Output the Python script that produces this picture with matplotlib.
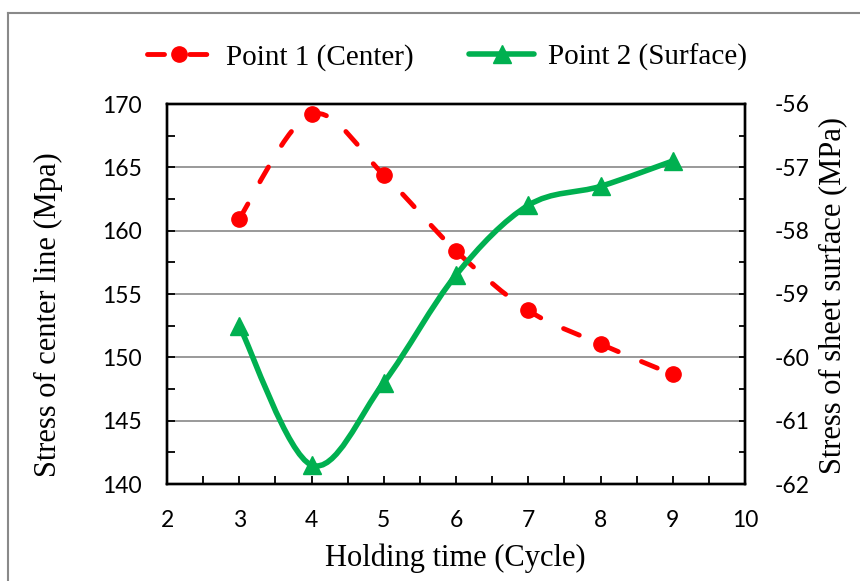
import matplotlib
matplotlib.use('Agg')
import matplotlib.pyplot as plt
import numpy as np
from matplotlib.path import Path
from matplotlib.patches import PathPatch
from matplotlib.lines import Line2D
from matplotlib.ticker import MultipleLocator
from matplotlib.font_manager import FontProperties

# ---------------- data ----------------
cycles = [3, 4, 5, 6, 7, 8, 9]
center_stress = [160.95, 169.2, 164.4, 158.4, 153.7, 151.05, 148.65]
surface_stress = [-59.5, -61.7, -60.4, -58.7, -57.6, -57.3, -56.9]
series_names = ['Point 1 (Center)', 'Point 2 (Surface)']
x_ticks = [2, 3, 4, 5, 6, 7, 8, 9, 10]
left_ticks = [140, 145, 150, 155, 160, 165, 170]
right_ticks = [-62, -61, -60, -59, -58, -57, -56]
x_title = 'Holding time (Cycle)'
left_title = 'Stress of center line (Mpa)'
right_title = 'Stress of sheet surface (MPa)'

RED = '#FF0000'
GREEN = '#00B050'
GRID = '#878787'

tick_font = FontProperties(family='Lato', size=16.5)
title_font = FontProperties(family='Liberation Serif', size=22)
legend_font = FontProperties(family='Liberation Serif', size=21)


def smooth_path(x, y):
    """Excel-like smoothed line as cubic Bezier segments through the points."""
    p = np.column_stack([x, y]).astype(float)
    n = len(p)
    verts = [p[0]]
    codes = [Path.MOVETO]
    for i in range(n - 1):
        prev = p[i - 1] if i > 0 else p[i]
        nxt = p[i + 2] if i + 2 < n else p[i + 1]
        c1 = p[i] + (p[i + 1] - prev) / 6.0
        c2 = p[i + 1] - (nxt - p[i]) / 6.0
        verts += [c1, c2, p[i + 1]]
        codes += [Path.CURVE4] * 3
    return Path(verts, codes)


fig = plt.figure(figsize=(8.6, 5.81), dpi=100)
W, H = 860, 581
ax = fig.add_axes([167 / W, 1 - 484 / H, (745 - 167) / W, (484 - 104) / H])
ax2 = ax.twinx()

# red series (left axis)
red_lw = 3.5
red_dash = (0, (3.5, 5.2))
ax.add_patch(PathPatch(smooth_path(cycles, center_stress), fill=False,
                       edgecolor=RED, lw=red_lw, linestyle=red_dash,
                       capstyle='round', joinstyle='round', zorder=3))
ax.plot(cycles, center_stress, ls='none', marker='o', ms=11,
        color=RED, zorder=4)

# green series (right axis)
green_lw = 4.0
ax2.add_patch(PathPatch(smooth_path(cycles, surface_stress), fill=False,
                        edgecolor=GREEN, lw=green_lw, capstyle='round',
                        joinstyle='round', zorder=3))
ax2.plot(cycles, surface_stress, ls='none', marker='^', ms=13,
         color=GREEN, zorder=4)

# axes limits and ticks
ax.set_xlim(x_ticks[0], x_ticks[-1])
ax.set_ylim(left_ticks[0], left_ticks[-1])
ax2.set_ylim(right_ticks[0], right_ticks[-1])

ax.set_xticks(x_ticks)
ax.set_xticklabels([str(v) for v in x_ticks], fontproperties=tick_font)
ax.xaxis.set_minor_locator(MultipleLocator(0.5))
ax.set_yticks(left_ticks)
ax.set_yticklabels([str(v) for v in left_ticks], fontproperties=tick_font)
ax.yaxis.set_minor_locator(MultipleLocator(2.5))
ax2.set_yticks(right_ticks)
ax2.set_yticklabels([str(v) for v in right_ticks], fontproperties=tick_font)
ax2.yaxis.set_minor_locator(MultipleLocator(0.5))

ax.tick_params(axis='x', which='both', direction='in', length=5.5, width=1.3,
               pad=19, colors='black')
ax.tick_params(axis='y', which='both', direction='in', length=5.5, width=1.3,
               pad=18, colors='black')
ax2.tick_params(axis='y', which='both', direction='in', length=4.5, width=1.3,
                pad=21, colors='black')

# gridlines
ax.yaxis.grid(True, which='major', color=GRID, lw=1.2)
ax.set_axisbelow(True)

for a in (ax, ax2):
    for s in a.spines.values():
        s.set_linewidth(1.7)
        s.set_color('black')

# titles
fig.text(455 / W, 1 - 558 / H, x_title, fontproperties=title_font,
         ha='center', va='center')
fig.text(48 / W, 1 - 315 / H, left_title, fontproperties=title_font,
         ha='center', va='center', rotation=90)
fig.text(833 / W, 1 - 295 / H, right_title, fontproperties=title_font,
         ha='center', va='center', rotation=90)

# legend
handles = [
    Line2D([0], [0], color=RED, lw=red_lw, linestyle=red_dash,
           dash_capstyle='round', marker='o', ms=11),
    Line2D([0], [0], color=GREEN, lw=green_lw, solid_capstyle='round',
           marker='^', ms=13),
]
fig.legend(handles, series_names, loc='center',
           bbox_to_anchor=(447 / W, 1 - 57 / H), ncol=2, frameon=False,
           prop=legend_font, handlelength=2.24, handletextpad=0.48,
           columnspacing=1.9)

# outer chart-area border (left and top visible)
fig.add_artist(Line2D([8 / W, 8 / W], [0, 1 - 13 / H], transform=fig.transFigure,
                      color='#898989', lw=1.5))
fig.add_artist(Line2D([8 / W, 1], [1 - 13 / H, 1 - 13 / H],
                      transform=fig.transFigure, color='#898989', lw=1.5))

fig.savefig('out.png', dpi=100)
